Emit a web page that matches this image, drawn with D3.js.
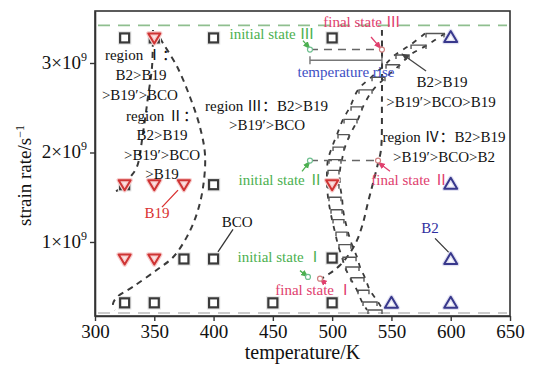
<!DOCTYPE html>
<html lang="en">
<head>
<meta charset="utf-8">
<script src="https://cdn.jsdelivr.net/npm/d3@7"></script>
<style>
    body { margin: 0; background: #fff; }
    svg { font-family: "Liberation Serif", "Times New Roman", "Noto Sans CJK SC", serif; }
</style>
</head>
<body>
<script type="text/javascript">

    /* data: temperature (K), strain rate (x1e9 /s) */
    var xTicks = [300, 350, 400, 450, 500, 550, 600, 650];
    var yTicks = [1, 2, 3];

    var squarePts = [[325, 3.28], [400, 3.28], [500, 3.28], [350, 3.28],
                     [325, 1.64], [400, 1.64],
                     [375, 0.81], [400, 0.81], [500, 0.82],
                     [325, 0.32], [350, 0.32], [400, 0.32], [450, 0.32], [500, 0.32]];
    var b19Pts = [[350, 3.28], [325, 1.64], [350, 1.64], [375, 1.64], [500, 1.64], [325, 0.81], [350, 0.81]];
    var b2Pts = [[600, 3.29], [600, 1.65], [600, 0.81], [550, 0.32], [600, 0.32]];

    /* reference lines (top / bottom strain rate) */
    var refLines = [3.42, 0.207];

    /* boundary curves */
    var curveA = [[354.8, 3.28], [357.4, 3.22], [369.2, 2.96], [380.1, 2.62], [388.6, 2.28], [392.8, 1.97],
                  [391.1, 1.61], [386.0, 1.32], [377.6, 1.06], [365.8, 0.83], [352.3, 0.69], [332.0, 0.50],
                  [318.6, 0.385], [315.2, 0.31], [316.9, 0.24]];
    var curveB = [[348.9, 3.37], [348.1, 2.96], [344.7, 2.62], [340.5, 2.22], [335.4, 1.84],
                  [329.5, 1.72], [323.5, 1.61], [314.3, 1.55]];
    var curveC = [[542.0, 3.37], [542.0, 2.59], [541.2, 2.03], [538.7, 1.88], [534.5, 1.66], [530.2, 1.44],
                  [526.0, 1.21], [521.0, 1.02], [515.1, 0.88], [506.6, 0.74], [498.2, 0.65], [489.8, 0.58]];

    /* hatched band: levels and left/right edge temperatures */
    var bandLevels = [3.33, 3.20, 3.09, 2.98, 2.84, 2.70, 2.51, 2.37, 2.20, 2.06, 1.92, 1.80, 1.64,
                      1.50, 1.36, 1.25, 1.11, 0.97, 0.83, 0.72, 0.60, 0.46, 0.33, 0.24];
    var bandLeft = [578.3, 565.7, 553.0, 544.6, 532.8, 521.8, 515.1, 509.2, 504.1, 499.9, 496.5, 495.7, 495.7,
                    496.5, 498.2, 499.9, 502.4, 504.9, 508.3, 510.8, 515.1, 521.0, 525.2, 529.4];
    var bandRight = [595.2, 580.0, 565.7, 557.2, 545.4, 534.5, 526.0, 521.8, 515.1, 510.8, 508.3, 506.6, 506.6,
                     508.3, 509.2, 510.8, 513.4, 516.7, 521.0, 523.5, 527.7, 531.9, 538.7, 542.9];

    /* initial / final states */
    var initialStates = [[481.3, 3.15], [481.3, 1.91], [479.6, 0.61]];
    var finalStates = [[542.0, 3.15], [538.7, 1.91], [489.8, 0.59]];
    var tempRise = [481.3, 542.0, 3.03];

    /* annotation pointers [x1, y1, x2, y2, color, arrow] */
    var pointers = [
        [475.4, 3.25, 481.3, 3.16, "#4cb050", true],
        [532.8, 3.29, 541.2, 3.16, "#e0406e", true],
        [579.2, 2.91, 558.9, 3.10, "#444", true],
        [474.6, 1.79, 481.3, 1.90, "#4cb050", true],
        [548.8, 1.79, 538.7, 1.89, "#e0406e", true],
        [472.9, 0.68, 479.6, 0.61, "#4cb050", true],
        [494.8, 0.53, 489.8, 0.59, "#e0406e", true],
        [356.5, 1.39, 370.0, 1.58, "#d93030", false],
        [416.4, 1.14, 403.7, 0.89, "#333", false],
        [586.8, 1.04, 599.4, 0.87, "#333", false]
    ];

    /* text labels [text, x, y, anchor, color] */
    var labels = [
        ["region \u2160\uff1a", 338.8, 3.03, "middle", "#111"],
        ["B2>B19", 338.8, 2.81, "middle", "#111"],
        [">B19\u2032>BCO", 337.9, 2.59, "middle", "#111"],
        ["region \u2161\uff1a", 356.5, 2.35, "middle", "#111"],
        ["B2>B19", 356.5, 2.14, "middle", "#111"],
        [">B19\u2032>BCO", 356.5, 1.92, "middle", "#111"],
        [">B19", 356.5, 1.70, "middle", "#111"],
        ["region \u2162\uff1aB2>B19", 392.8, 2.46, "start", "#111"],
        [">B19\u2032>BCO", 445.1, 2.25, "middle", "#111"],
        ["B2>B19", 592.7, 2.73, "middle", "#111"],
        [">B19\u2032>BCO>B19", 591.8, 2.51, "middle", "#111"],
        ["region \u2163\uff1aB2>B19", 594.3, 2.12, "middle", "#111"],
        [">B19\u2032>BCO>B2", 594.3, 1.89, "middle", "#111"],
        ["initial state \u2162", 449.3, 3.27, "middle", "#4cb050"],
        ["final state \u2162", 525.2, 3.40, "middle", "#e0406e"],
        ["temperature rise", 511.7, 2.84, "middle", "#3d4fc4"],
        ["initial state \u2161", 456.9, 1.64, "middle", "#4cb050"],
        ["final state \u2161", 565.7, 1.64, "middle", "#e0406e"],
        ["initial state \u2160", 456.0, 0.78, "middle", "#4cb050"],
        ["final state \u2160", 484.7, 0.41, "middle", "#e0406e"],
        ["B19", 352.3, 1.27, "middle", "#d93030"],
        ["BCO", 419.8, 1.17, "middle", "#111"],
        ["B2", 582.5, 1.10, "middle", "#2e2ea0"]
    ];

    var svgWidth = 539;
    var svgHeight = 365;

    var svg = d3.select("body").append("svg")
            .attr("width", svgWidth)
            .attr("height", svgHeight);

    var margin = {top: 11, right: 29, bottom: 49, left: 95};
    var chartWidth = svgWidth - margin.left - margin.right;
    var chartHeight = svgHeight - margin.top - margin.bottom;

    var x = d3.scaleLinear().domain([300, 650]).range([0, chartWidth]);
    var y = d3.scaleLinear().domain([0.173, 3.581]).range([chartHeight, 0]);

    var g = svg.append("g")
            .attr("transform", "translate(" + margin.left + ", " + margin.top + ")");

    /* arrowheads */
    var defs = svg.append("defs");
    ["#4cb050", "#e0406e", "#444"].forEach(function(c, i) {
        defs.append("marker")
                .attr("id", "ah" + i)
                .attr("viewBox", "0 0 10 10")
                .attr("refX", 9).attr("refY", 5)
                .attr("markerWidth", 6).attr("markerHeight", 6)
                .attr("orient", "auto")
                .append("path")
                .attr("d", "M0,1 L10,5 L0,9 z")
                .style("fill", c);
    });
    var arrowId = {"#4cb050": "url(#ah0)", "#e0406e": "url(#ah1)", "#444": "url(#ah2)"};

    /* reference dashed lines */
    g.selectAll(".ref")
            .data(refLines)
            .enter()
            .append("line")
            .attr("x1", 3).attr("x2", chartWidth - 3)
            .attr("y1", function(d) { return y(d); })
            .attr("y2", function(d) { return y(d); })
            .style("stroke", function(d, i) { return i == 0 ? "#8fbf8f" : "#bbbbbb"; })
            .style("stroke-width", 1.6)
            .style("stroke-dasharray", "12,8");

    /* boundary curves */
    var line = d3.line()
            .x(function(d) { return x(d[0]); })
            .y(function(d) { return y(d[1]); })
            .curve(d3.curveCatmullRom.alpha(0.5));

    g.selectAll(".bound")
            .data([curveA, curveB, curveC])
            .enter()
            .append("path")
            .attr("d", line)
            .style("fill", "none")
            .style("stroke", "#3a3a3a")
            .style("stroke-width", 2)
            .style("stroke-dasharray", "6,5");

    /* band edges */
    var leftEdge = bandLevels.map(function(v, i) { return [bandLeft[i], v]; });
    var rightEdge = bandLevels.map(function(v, i) { return [bandRight[i], v]; });
    g.selectAll(".edge")
            .data([leftEdge, rightEdge])
            .enter()
            .append("path")
            .attr("d", line)
            .style("fill", "none")
            .style("stroke", "#3a3a3a")
            .style("stroke-width", 1.8)
            .style("stroke-dasharray", "5,6");

    /* band rungs */
    g.selectAll(".rung")
            .data(bandLevels)
            .enter()
            .append("path")
            .attr("d", function(d, i) {
                var xl = x(bandLeft[i]) + 1, xr = x(bandRight[i]) - 1, yy = y(d);
                return "M" + xl + "," + (yy + 4) + "L" + xl + "," + yy + "L" + xr + "," + yy + "L" + xr + "," + (yy + 4);
            })
            .style("fill", "none")
            .style("stroke", "#555")
            .style("stroke-width", 1.4);

    /* state connector lines */
    g.selectAll(".state")
            .data([0, 1])
            .enter()
            .append("line")
            .attr("x1", function(d) { return x(initialStates[d][0]); })
            .attr("x2", function(d) { return x(finalStates[d][0]); })
            .attr("y1", function(d) { return y(initialStates[d][1]); })
            .attr("y2", function(d) { return y(finalStates[d][1]); })
            .style("stroke", "#666")
            .style("stroke-width", 1.6)
            .style("stroke-dasharray", "8,6");

    /* temperature rise bar */
    var tr = g.append("g").style("stroke", "#777").style("stroke-width", 1.4);
    tr.append("line")
            .attr("x1", x(tempRise[0])).attr("x2", x(tempRise[1]))
            .attr("y1", y(tempRise[2])).attr("y2", y(tempRise[2]));
    [tempRise[0], tempRise[1]].forEach(function(t) {
        tr.append("line")
                .attr("x1", x(t)).attr("x2", x(t))
                .attr("y1", y(tempRise[2]) - 4).attr("y2", y(tempRise[2]) + 4);
    });

    /* pointers */
    g.selectAll(".ptr")
            .data(pointers)
            .enter()
            .append("line")
            .attr("x1", function(d) { return x(d[0]); })
            .attr("y1", function(d) { return y(d[1]); })
            .attr("x2", function(d) { return x(d[2]); })
            .attr("y2", function(d) { return y(d[3]); })
            .attr("marker-end", function(d) { return d[5] ? arrowId[d[4]] : null; })
            .style("stroke", function(d) { return d[4]; })
            .style("stroke-width", 1.3);

    /* state points */
    g.selectAll(".ini")
            .data(initialStates)
            .enter()
            .append("circle")
            .attr("cx", function(d) { return x(d[0]); })
            .attr("cy", function(d) { return y(d[1]); })
            .attr("r", 2.5)
            .style("fill", "#fff")
            .style("stroke", "#6fbf8f")
            .style("stroke-width", 1.2);
    g.selectAll(".fin")
            .data(finalStates)
            .enter()
            .append("circle")
            .attr("cx", function(d) { return x(d[0]); })
            .attr("cy", function(d) { return y(d[1]); })
            .attr("r", 2.5)
            .style("fill", "#fff")
            .style("stroke", "#d08080")
            .style("stroke-width", 1.2);

    /* square markers (BCO) */
    var sq = g.selectAll(".sq")
            .data(squarePts)
            .enter()
            .append("g")
            .attr("transform", function(d) { return "translate(" + x(d[0]) + "," + y(d[1]) + ")"; });
    sq.append("rect")
            .attr("x", -4.5).attr("y", -4.5).attr("width", 9).attr("height", 9)
            .style("fill", "none").style("stroke", "#e6e6e6").style("stroke-width", 4.5);
    sq.append("rect")
            .attr("x", -4.5).attr("y", -4.5).attr("width", 9).attr("height", 9)
            .style("fill", "#fff").style("stroke", "#3a3a3a").style("stroke-width", 2.2);

    /* down triangles (B19) */
    var tri = g.selectAll(".b19")
            .data(b19Pts)
            .enter()
            .append("g")
            .attr("transform", function(d) { return "translate(" + x(d[0]) + "," + y(d[1]) + ")"; });
    tri.append("path")
            .attr("d", "M-6,-4.5L6,-4.5L0,5.5Z")
            .style("fill", "#fbe6e6").style("stroke", "#f7cccc").style("stroke-width", 4.5)
            .style("stroke-linejoin", "round");
    tri.append("path")
            .attr("d", "M-6,-4.5L6,-4.5L0,5.5Z")
            .style("fill", "none").style("stroke", "#cf3434").style("stroke-width", 2)
            .style("stroke-linejoin", "round");

    /* up triangles (B2) */
    var tup = g.selectAll(".b2")
            .data(b2Pts)
            .enter()
            .append("g")
            .attr("transform", function(d) { return "translate(" + x(d[0]) + "," + y(d[1]) + ")"; });
    tup.append("path")
            .attr("d", "M-6.5,5L6.5,5L0,-6Z")
            .style("fill", "#fff").style("stroke", "#e2e2f2").style("stroke-width", 4.5)
            .style("stroke-linejoin", "round");
    tup.append("path")
            .attr("d", "M-6.5,5L6.5,5L0,-6Z")
            .style("fill", "none").style("stroke", "#38388c").style("stroke-width", 2)
            .style("stroke-linejoin", "round");

    /* labels */
    g.selectAll(".lbl")
            .data(labels)
            .enter()
            .append("text")
            .attr("x", function(d) { return x(d[1]); })
            .attr("y", function(d) { return y(d[2]); })
            .attr("text-anchor", function(d) { return d[3]; })
            .style("fill", function(d) { return d[4]; })
            .style("font-size", "15px")
            .text(function(d) { return d[0]; });

    /* axes */
    var xAxis = g.append("g")
            .attr("transform", "translate(0," + chartHeight + ")")
            .call(d3.axisBottom(x).tickValues(xTicks).tickSize(5).tickSizeOuter(0));
    var yAxis = g.append("g")
            .call(d3.axisLeft(y).tickValues(yTicks).tickSize(5).tickSizeOuter(0).tickFormat(""));

    [xAxis, yAxis].forEach(function(a) {
        a.select(".domain").style("stroke", "#333").style("stroke-width", 1.6);
        a.selectAll(".tick line").style("stroke", "#333").style("stroke-width", 1.4);
    });
    xAxis.selectAll(".tick text")
            .attr("y", 9)
            .attr("dy", "0.71em")
            .style("font-family", "\"Liberation Serif\", serif")
            .style("font-size", "19px")
            .style("fill", "#111");

    /* y tick labels with superscript */
    var yLab = g.selectAll(".ylab")
            .data(yTicks)
            .enter()
            .append("text")
            .attr("x", -8)
            .attr("y", function(d) { return y(d) + 6; })
            .attr("text-anchor", "end")
            .style("font-size", "19px")
            .style("fill", "#111");
    yLab.append("tspan").text(function(d) { return d + "\u00d710"; });
    yLab.append("tspan").attr("dy", -8).style("font-size", "12px").text("9");

    /* frame */
    g.append("rect")
            .attr("width", chartWidth)
            .attr("height", chartHeight)
            .style("fill", "none")
            .style("stroke", "#333")
            .style("stroke-width", 1.6);

    /* axis titles */
    svg.append("text")
            .attr("x", margin.left + x(475))
            .attr("y", 359)
            .attr("text-anchor", "middle")
            .style("font-size", "20px")
            .style("fill", "#111")
            .text("temperature/K");

    var yt = svg.append("text")
            .attr("transform", "translate(31," + (margin.top + chartHeight / 2 + 12) + ") rotate(-90)")
            .attr("text-anchor", "middle")
            .style("font-size", "19px")
            .style("fill", "#111");
    yt.append("tspan").text("strain rate/s");
    yt.append("tspan").attr("dy", -7).style("font-size", "12px").text("\u22121");

</script>
</body>
</html>
